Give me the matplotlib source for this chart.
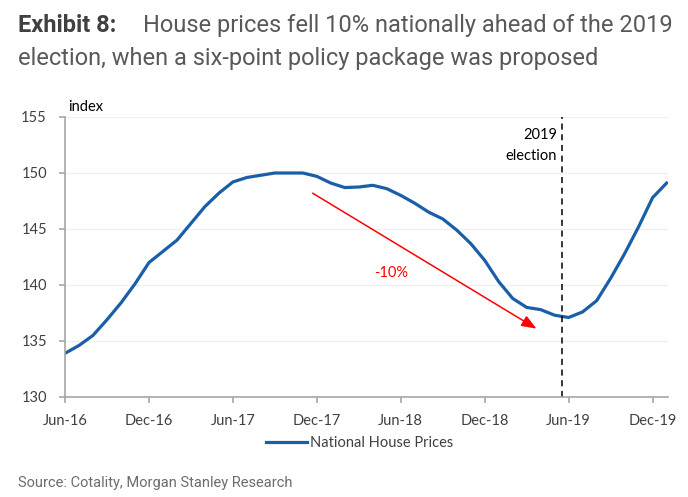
import matplotlib
matplotlib.use("Agg")
import matplotlib.pyplot as plt

# ---- data ----
tick_labels = ["Jun-16", "Dec-16", "Jun-17", "Dec-17", "Jun-18", "Dec-18", "Jun-19", "Dec-19"]
tick_positions = [0, 6, 12, 18, 24, 30, 36, 42]  # months since Jun-16
y_ticks = [130, 135, 140, 145, 150, 155]
national_house_prices = [133.9, 134.6, 135.5, 136.9, 138.4, 140.1, 142.0, 143.0, 144.0, 145.5,
                         147.0, 148.2, 149.2, 149.6, 149.8, 150.0, 150.0, 150.0, 149.7, 149.1,
                         148.7, 148.75, 148.9, 148.6, 148.0, 147.3, 146.5, 145.9, 144.9, 143.7,
                         142.2, 140.3, 138.8, 138.0, 137.8, 137.3, 137.1, 137.6, 138.6, 140.6,
                         142.8, 145.2, 147.8, 149.1]
election_month = 35.5
arrow_start = (17.7, 148.2)
arrow_end = (33.7, 136.1)
arrow_label = "-10%"

fig = plt.figure(figsize=(6.88, 4.97), dpi=100)
ax = fig.add_axes([65/688, 1-397/497, (668-65)/688, (397-117)/497])

x = list(range(len(national_house_prices)))
line, = ax.plot(x, national_house_prices, color="#1a5ea8", lw=2.3, solid_joinstyle="round")

ax.set_xlim(0, 43.1)
ax.set_ylim(130, 155)
ax.set_yticks(y_ticks)
ax.set_xticks(tick_positions)
ax.set_xticklabels(tick_labels)

for s in ["top", "right"]:
    ax.spines[s].set_visible(False)
for s in ["left", "bottom"]:
    ax.spines[s].set_color("#a6a6a6")
    ax.spines[s].set_linewidth(1.2)

ax.tick_params(axis="both", colors="#a6a6a6", length=4, width=1.2, direction="out")
ax.tick_params(axis="y", pad=9, labelcolor="#404040", labelsize=10.5)
ax.tick_params(axis="x", pad=8, labelcolor="#404040", labelsize=10.5)
for lab in ax.get_xticklabels() + ax.get_yticklabels():
    lab.set_fontfamily("Lato")

ax.grid(axis="y", color="#f0f0f0", lw=1)
ax.set_axisbelow(True)

ax.axvline(election_month, color="black", lw=1.1, ls=(0, (4, 3)))
ax.text(election_month - 0.35, 153.4, "2019", ha="right", va="center", fontsize=10.5,
        family="Lato", color="black")
ax.text(election_month - 0.35, 151.5, "election", ha="right", va="center", fontsize=10.5,
        family="Lato", color="black")

ax.annotate("", xy=arrow_end, xytext=arrow_start,
            arrowprops=dict(arrowstyle="-|>,head_length=0.9,head_width=0.35", color="red", lw=1.1,
                            shrinkA=0, shrinkB=0))
ax.text(23.3, 141.1, arrow_label, color="red", ha="center", va="center", fontsize=10.5, family="Lato")

ax.text(0.005, 1.01, "index", transform=ax.transAxes, ha="left", va="bottom", fontsize=10.5,
        family="Lato", color="black")

fig.legend([line], ["National House Prices"], loc="center", bbox_to_anchor=(360/688, 1-443/497),
           frameon=False, prop={"family": "Lato", "size": 10.5}, handlelength=2.8, handletextpad=0.2,
           labelcolor="#404040")

fig.text(18/688, 1-31.7/497, "Exhibit 8:", fontsize=17, fontweight="bold",
         family=["Liberation Sans Narrow", "Roboto"],
         color="#404040", va="baseline", ha="left")
fig.text(143/688, 1-31.7/497, "House prices fell 10% nationally ahead of the 2019", fontsize=17,
         fontweight="normal", family="Roboto", color="#595959", va="baseline", ha="left")
fig.text(18/688, 1-65.5/497, "election, when a six-point policy package was proposed", fontsize=17,
         fontweight="normal", family="Roboto", color="#595959", va="baseline", ha="left")
fig.text(18/688, 1-486.5/497, "Source: Cotality, Morgan Stanley Research", fontsize=10.5,
         fontweight="normal", family="Roboto", color="#6d6d6d", va="baseline", ha="left")

fig.savefig("out.png", dpi=100)
